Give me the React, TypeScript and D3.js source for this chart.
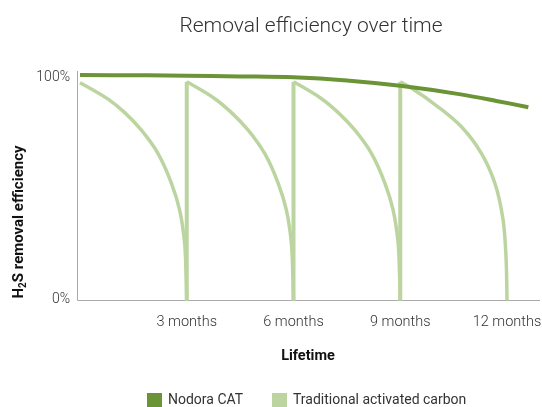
import React, { useEffect, useRef } from 'react';
import * as d3 from 'd3';

// months -> efficiency (%)
const nodoraSeries: [number, number][] = [
  [0, 100.2], [1.5, 100.1], [3, 99.9], [4.5, 99.6], [6, 99.2],
  [7.5, 97.8], [9, 95.4], [10.7, 91.6], [11.7, 88.7], [12.6, 85.9],
];

const carbonCycles: [number, number][][] = [
  [[0, 96.8], [0.78, 89.6], [1.25, 83.6], [1.72, 75.8], [2.19, 65.4], [2.57, 52.1], [2.8, 40.2], [2.94, 25.6], [2.98, 12], [3, 0]],
  [[3, 97.2], [3.78, 89.8], [4.25, 83.6], [4.72, 75.8], [5.19, 65.4], [5.57, 52.1], [5.8, 40.2], [5.94, 25.6], [5.98, 12], [6, 0]],
  [[6, 97.2], [6.78, 89.8], [7.25, 83.6], [7.72, 75.8], [8.19, 65.4], [8.57, 52.1], [8.8, 40.2], [8.94, 25.6], [8.98, 12], [9, 0]],
  [[9, 97.2], [9.32, 94.3], [10.06, 86.1], [10.72, 77.2], [11.28, 65.4], [11.66, 52.1], [11.89, 35.8], [11.97, 20], [12, 0]],
];

const xTicks = [3, 6, 9, 12];
const xTickLabels = ['3 months', '6 months', '9 months', '12 months'];
const yTicks = [0, 100];
const legendItems = ['Nodora CAT', 'Traditional activated carbon'];

const DARK = '#6a9436';
const LIGHT = '#bcd5a0';
const FONT = 'Roboto, "DejaVu Sans", sans-serif';

const App = () => {
  const svgRef = useRef<SVGSVGElement>(null);

  useEffect(() => {
    const W = 542, H = 407;
    const svg = d3.select(svgRef.current);
    svg.selectAll('*').remove();
    svg.attr('width', W).attr('height', H);

    const x = d3.scaleLinear().domain([0, 12]).range([80, 507]);
    const y = d3.scaleLinear().domain([0, 100]).range([300.5, 75.5]);

    // title
    svg.append('text')
      .attr('x', 311).attr('y', 32)
      .attr('text-anchor', 'middle')
      .attr('font-family', FONT).attr('font-weight', 300)
      .attr('font-size', 21).attr('fill', '#333')
      .text('Removal efficiency over time');

    // axes
    svg.append('line')
      .attr('x1', 77.5).attr('x2', 77.5).attr('y1', 71).attr('y2', y(0))
      .attr('stroke', '#aaa').attr('stroke-width', 1);
    svg.append('line')
      .attr('x1', 77.5).attr('x2', 540).attr('y1', y(0)).attr('y2', y(0))
      .attr('stroke', '#aaa').attr('stroke-width', 1);

    svg.selectAll('.ytick')
      .data(yTicks).enter().append('text')
      .attr('x', 70).attr('y', d => y(d) + (d === 0 ? -3 : 0) + 5)
      .attr('text-anchor', 'end')
      .attr('font-family', FONT).attr('font-weight', 300)
      .attr('font-size', 14).attr('fill', '#333')
      .text(d => `${d}%`);

    svg.selectAll('.xtick')
      .data(xTicks).enter().append('text')
      .attr('x', d => x(d)).attr('y', 326)
      .attr('text-anchor', 'middle')
      .attr('font-family', FONT).attr('font-weight', 300)
      .attr('font-size', 14.5).attr('fill', '#333')
      .text((d, i) => xTickLabels[i]);

    // axis titles
    svg.append('text')
      .attr('x', 308).attr('y', 360)
      .attr('text-anchor', 'middle')
      .attr('font-family', FONT).attr('font-weight', 700)
      .attr('font-size', 14.5).attr('fill', '#111')
      .text('Lifetime');

    const yt = svg.append('text')
      .attr('transform', 'translate(23,222) rotate(-90)')
      .attr('text-anchor', 'middle')
      .attr('font-family', FONT).attr('font-weight', 700)
      .attr('font-size', 15).attr('fill', '#111');
    yt.append('tspan').text('H');
    yt.append('tspan').attr('font-size', 10).attr('dy', 3).text('2');
    yt.append('tspan').attr('dy', -3).text('S removal efficiency');

    // traditional activated carbon
    const curve = d3.line<[number, number]>()
      .curve(d3.curveCatmullRom.alpha(0.5))
      .x(d => x(d[0])).y(d => y(d[1]));

    carbonCycles.forEach((cyc, i) => {
      if (i > 0) {
        svg.append('line')
          .attr('x1', x(cyc[0][0])).attr('x2', x(cyc[0][0]))
          .attr('y1', y(0)).attr('y2', y(cyc[0][1]))
          .attr('stroke', LIGHT).attr('stroke-width', 4);
      }
      svg.append('path')
        .datum(cyc)
        .attr('fill', 'none')
        .attr('stroke', LIGHT)
        .attr('stroke-width', 3.5)
        .attr('d', curve);
    });

    // Nodora CAT
    svg.append('path')
      .datum(nodoraSeries)
      .attr('fill', 'none')
      .attr('stroke', DARK)
      .attr('stroke-width', 4)
      .attr('d', d3.line<[number, number]>().curve(d3.curveCatmullRom.alpha(0.5)).x(d => x(d[0])).y(d => y(d[1])));

    // legend
    const legX = [147, 272];
    legendItems.forEach((name, i) => {
      svg.append('rect')
        .attr('x', legX[i]).attr('y', 393)
        .attr('width', 15).attr('height', 14)
        .attr('fill', i === 0 ? DARK : LIGHT);
      svg.append('text')
        .attr('x', legX[i] + 21).attr('y', 404)
        .attr('font-family', FONT).attr('font-weight', 400)
        .attr('font-size', 14).attr('fill', '#333')
        .text(name);
    });
  }, []);

  return (
    <div style={{ position: 'fixed', left: 0, top: 0 }}>
      <svg ref={svgRef} style={{ display: 'block' }}></svg>
    </div>
  );
};

export default App;
